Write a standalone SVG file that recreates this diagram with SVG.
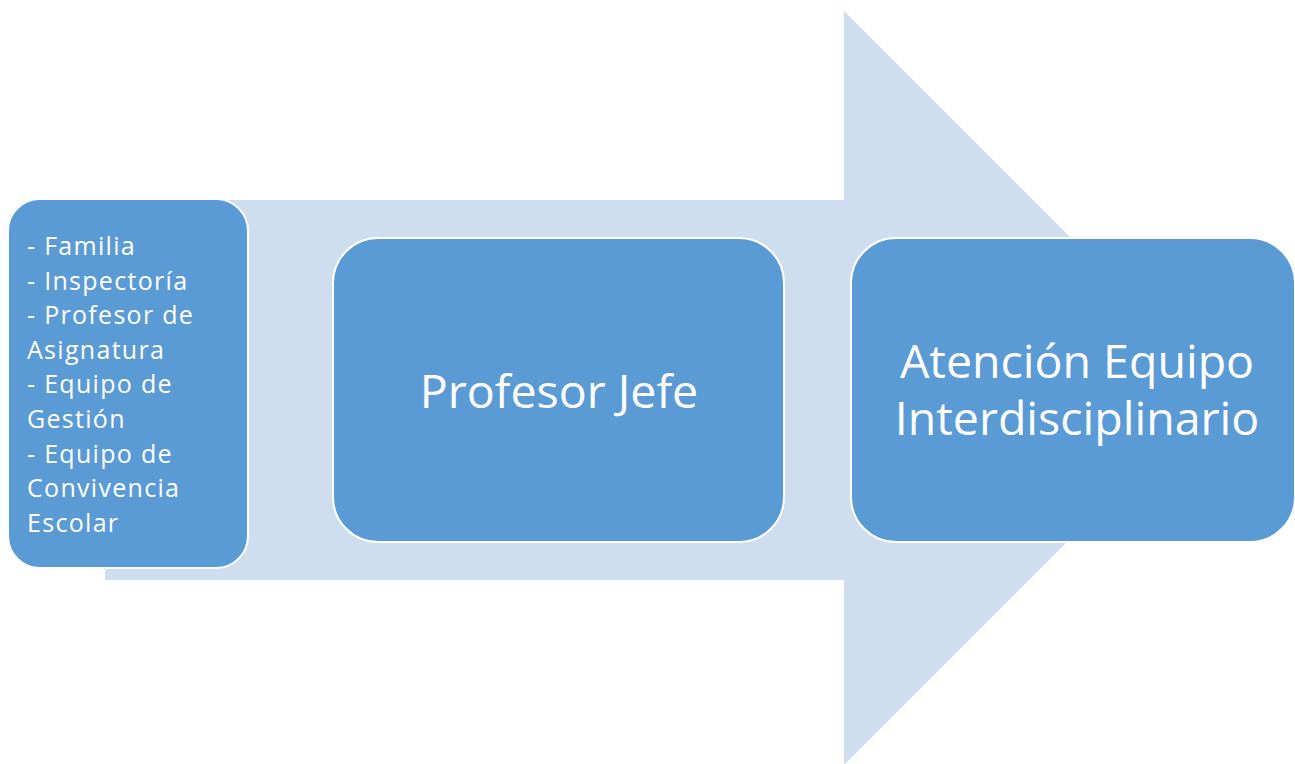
<svg xmlns="http://www.w3.org/2000/svg" width="1295" height="764" viewBox="0 0 1295 764">
<style>
.node{fill:#5B9BD5;stroke:#FFFFFF;stroke-width:2}
.t{font-family:"Open Sans","Liberation Sans",sans-serif;fill:#FFFFFF}
.big{font-size:46.5px}
.small{font-size:25px;letter-spacing:1.3px}
</style>
<rect width="1295" height="764" fill="#FFFFFF"/>
<g id="connectors">
<polygon points="105,200 844,200 844,11 1221,388 844,765 844,580 105,580" fill="#CFDEEE"/>
</g>
<g id="node1">
<rect class="node" x="8" y="199" width="240" height="369" rx="32"/>
<text class="t small" x="27">
<tspan x="27" y="255">- Familia</tspan>
<tspan x="27" y="290">- Inspectoría</tspan>
<tspan x="27" y="324">- Profesor de</tspan>
<tspan x="27" y="359">Asignatura</tspan>
<tspan x="27" y="393">- Equipo de</tspan>
<tspan x="27" y="428">Gestión</tspan>
<tspan x="27" y="463">- Equipo de</tspan>
<tspan x="27" y="497">Convivencia</tspan>
<tspan x="27" y="532">Escolar</tspan>
</text>
</g>
<g id="node2">
<rect class="node" x="333" y="238" width="451" height="304" rx="45"/>
<text class="t big" x="559" y="408" text-anchor="middle">Profesor Jefe</text>
</g>
<g id="node3">
<rect class="node" x="851" y="238" width="444" height="304" rx="45"/>
<text class="t big" text-anchor="middle"><tspan x="1077" y="378">Atención Equipo</tspan><tspan x="1077" y="435">Interdisciplinario</tspan></text>
</g>
</svg>
